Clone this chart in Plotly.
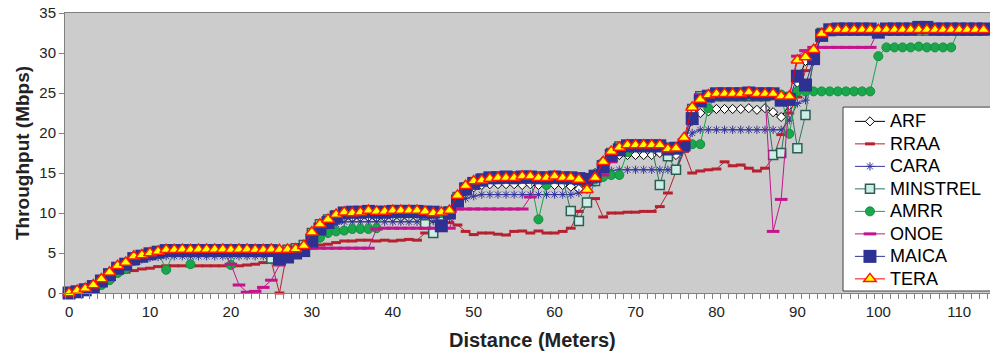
import plotly.graph_objects as go

distance = list(range(0, 114))
x_ticks = [0, 10, 20, 30, 40, 50, 60, 70, 80, 90, 100, 110]
y_ticks = [0, 5, 10, 15, 20, 25, 30, 35]

ARF = [0.0, 0.25, 0.5, 0.9, 1.6, 2.4, 3.2, 3.6, 4.3, 4.5,
       4.8, 5.0, 5.1, 5.1, 5.1, 5.1, 5.1, 5.1, 5.1, 5.1,
       5.1, 5.1, 5.1, 5.1, 5.1, 5.1, 5.1, 5.2, 5.4, 5.8,
       7.2, 8.0, 8.6, 9.0, 9.4, 9.4, 9.5, 9.5, 9.4, 9.5,
       9.5, 9.5, 9.4, 9.5, 9.5, 9.3, 9.4, 9.8, 11.3, 12.6,
       13.2, 13.5, 13.6, 13.6, 13.6, 13.6, 13.5, 13.6, 13.5, 13.6,
       13.5, 13.5, 13.3, 13.0, 13.6, 15.0, 16.5, 17.25, 17.25, 17.25,
       17.25, 17.25, 17.25, 17.5, 17.25, 17.25, 19.0, 21.5, 22.5, 22.7,
       23.0, 23.0, 23.0, 23.0, 23.1, 22.9, 23.1, 22.6, 22.0, 23.5,
       26.3, 29.0, 30.5, 32.4, 32.9, 32.9, 32.9, 32.9, 32.9, 32.9,
       32.9, 32.9, 32.9, 32.9, 32.9, 32.9, 32.9, 32.9, 32.9, 32.9,
       32.9, 32.9, 32.9, 32.9]

RRAA = [0.0, 0.15, 0.35, 0.6, 1.0, 1.6, 2.4, 2.6, 2.8, 3.0,
        3.1, 3.3, 3.4, 3.4, 3.4, 3.4, 3.4, 3.4, 3.4, 3.4,
        3.4, 3.4, 3.5, 3.6, 3.8, 3.9, 0.0, 5.5, 5.8, 5.9,
        6.0, 6.0, 6.1, 6.3, 6.5, 6.5, 6.6, 6.6, 6.5, 6.6,
        6.5, 6.6, 6.7, 6.6, 7.5, 7.7, 8.2, 8.8, 8.5, 7.7,
        7.3, 7.5, 7.5, 7.35, 7.25, 7.7, 7.75, 7.5, 7.75, 7.5,
        7.5, 7.7, 8.1, 10.2, 11.6, 11.8, 9.5, 10.0, 10.0, 10.1,
        10.1, 10.2, 10.2, 10.8, 12.5, 15.2, 17.7, 15.0, 15.25, 15.4,
        15.5, 16.4, 15.9, 16.0, 15.6, 15.25, 15.6, 16.9, 19.8, 22.5,
        24.5, 27.8, 30.5, 32.5, 32.8, 32.8, 32.8, 32.8, 32.8, 32.8,
        32.8, 32.8, 32.8, 32.8, 32.8, 32.8, 32.8, 32.8, 32.8, 32.8,
        32.8, 32.8, 32.8, 32.8]

CARA = [0.0, 0.2, 0.45, 0.85, 1.4, 2.1, 2.9, 3.4, 3.9, 4.2,
        4.4, 4.5, 4.6, 4.6, 4.6, 4.6, 4.6, 4.6, 4.6, 4.6,
        4.6, 4.6, 4.6, 4.6, 4.6, 4.6, 4.6, 4.8, 5.2, 5.6,
        7.0, 8.0, 8.4, 8.6, 8.9, 8.9, 8.9, 8.9, 8.9, 8.9,
        8.9, 8.9, 8.9, 8.9, 8.9, 9.0, 9.1, 9.3, 11.0, 11.8,
        12.1, 12.3, 12.3, 12.3, 12.3, 12.3, 12.3, 12.3, 12.3, 12.3,
        12.3, 12.3, 12.3, 12.5, 12.9, 13.8, 15.0, 15.3, 15.4, 15.4,
        15.4, 15.4, 15.4, 15.4, 15.4, 15.4, 18.0, 20.0, 20.4, 20.4,
        20.4, 20.4, 20.4, 20.4, 20.4, 20.4, 20.4, 20.4, 20.4, 21.6,
        23.7, 24.1, 28.9, 32.5, 32.8, 32.8, 32.8, 32.8, 32.8, 32.8,
        32.8, 32.8, 32.8, 32.8, 32.8, 32.8, 32.8, 32.8, 32.8, 32.8,
        32.8, 32.8, 32.8, 32.8]

MINSTREL = [0.0, 0.2, 0.5, 0.9, 1.4, 2.1, 2.9, 3.5, 4.1, 4.5,
            4.9, 5.1, 5.3, 5.3, 5.3, 5.3, 5.3, 5.3, 5.3, 5.3,
            5.3, 5.3, 5.3, 5.3, 5.3, 4.3, 5.0, 5.4, 5.6, 6.0,
            7.5, 8.6, 9.2, 9.7, 10.0, 10.0, 10.0, 10.0, 10.0, 10.0,
            10.0, 10.0, 10.0, 10.0, 8.6, 7.5, 9.0, 10.2, 12.0, 13.2,
            13.8, 14.3, 14.3, 14.3, 14.3, 14.3, 14.3, 14.3, 14.3, 14.3,
            14.3, 14.3, 10.25, 9.0, 11.3, 14.0, 16.0, 17.5, 18.3, 18.3,
            18.3, 18.3, 18.3, 13.5, 17.1, 15.4, 18.8, 23.0, 24.6, 24.6,
            24.6, 24.6, 24.6, 24.6, 24.6, 24.6, 24.6, 17.25, 17.5, 24.5,
            18.1, 22.25, 29.5, 32.5, 32.8, 32.8, 32.8, 32.8, 32.8, 32.8,
            32.8, 32.8, 32.8, 32.8, 32.8, 32.8, 32.8, 32.8, 32.8, 32.8,
            32.8, 32.8, 32.8, 32.8]

AMRR = [0.0, 0.15, 0.35, 0.6, 1.0, 1.6, 2.5, 3.0, 4.0, 4.5,
        4.9, 5.1, 2.9, 5.2, 5.3, 3.6, 5.3, 5.3, 5.3, 5.3,
        3.5, 5.3, 5.3, 5.3, 5.3, 5.3, 5.3, 5.3, 5.5, 5.8,
        6.0, 6.9, 7.5, 7.7, 7.8, 8.0, 8.0, 8.0, 8.1, 10.0,
        10.0, 10.0, 10.0, 10.0, 10.0, 10.0, 10.0, 9.8, 11.5, 13.0,
        13.8, 14.3, 14.3, 14.3, 14.3, 14.3, 14.3, 14.3, 9.2, 13.5,
        14.3, 14.3, 14.3, 14.3, 14.3, 14.2, 14.5, 14.75, 14.75, 17.6,
        18.2, 18.2, 18.2, 18.2, 18.2, 18.2, 18.2, 18.6, 18.6, 23.1,
        24.8, 24.8, 24.8, 24.8, 24.8, 24.8, 24.8, 24.8, 24.8, 19.9,
        25.2, 25.2, 25.2, 25.2, 25.2, 25.2, 25.2, 25.2, 25.2, 25.2,
        29.6, 30.7, 30.7, 30.7, 30.7, 30.8, 30.7, 30.7, 30.7, 30.7,
        33.0, 33.0, 33.0, 33.0]

ONOE = [0.0, 0.2, 0.5, 0.9, 1.5, 2.3, 3.1, 3.6, 4.2, 4.6,
        4.9, 5.1, 5.3, 5.3, 5.3, 5.3, 5.3, 5.3, 5.3, 5.3,
        3.6, 1.0, 0.1, 0.2, 0.7, 1.6, 3.5, 5.6, 5.6, 5.6,
        5.6, 5.6, 5.6, 5.6, 5.6, 5.6, 5.6, 5.6, 8.0, 8.1,
        8.1, 8.1, 8.1, 8.1, 8.1, 8.1, 8.1, 8.1, 10.5, 10.5,
        10.5, 10.5, 10.5, 10.5, 10.5, 10.5, 10.5, 12.0, 14.3, 14.4,
        14.4, 14.4, 14.4, 14.4, 14.4, 14.4, 14.75, 16.4, 18.0, 18.4,
        18.4, 18.4, 18.4, 18.4, 18.4, 18.4, 18.4, 23.0, 24.8, 24.8,
        24.8, 24.8, 24.8, 24.8, 24.8, 24.8, 24.8, 7.7, 11.7, 24.5,
        29.6, 30.3, 30.7, 30.7, 30.7, 30.7, 30.7, 30.7, 30.7, 30.7,
        32.9, 32.9, 32.9, 32.9, 32.9, 32.9, 32.9, 32.9, 32.9, 32.9,
        32.9, 32.9, 32.9, 32.9]

MAICA = [0.0, 0.15, 0.4, 0.8, 1.5, 2.3, 3.1, 3.6, 4.3, 4.6,
         4.9, 5.1, 5.3, 5.3, 5.3, 5.3, 5.3, 5.3, 5.3, 5.3,
         5.3, 5.3, 5.3, 5.3, 5.3, 5.3, 4.3, 4.5, 5.0, 5.3,
         6.5, 8.0, 8.8, 9.5, 10.0, 10.1, 10.1, 10.2, 10.1, 10.1,
         10.2, 10.2, 10.2, 10.2, 10.1, 10.1, 8.4, 10.0, 11.5, 13.0,
         13.7, 14.1, 14.4, 14.4, 14.5, 14.4, 14.5, 14.5, 14.4, 14.4,
         14.5, 14.4, 14.4, 14.3, 14.2, 14.6, 15.8, 17.2, 17.9, 18.4,
         18.4, 18.4, 18.4, 18.4, 18.0, 18.1, 18.5, 21.8, 24.0, 24.6,
         24.9, 24.9, 24.9, 24.9, 25.0, 24.9, 24.9, 24.9, 24.1, 24.2,
         27.1, 26.0, 29.3, 32.2, 32.9, 33.0, 33.0, 33.0, 33.0, 33.0,
         32.6, 33.0, 33.0, 33.0, 33.0, 33.2, 33.2, 33.0, 33.0, 33.0,
         33.0, 33.0, 33.0, 33.0]

TERA = [0.0, 0.3, 0.55, 1.0, 1.75, 2.6, 3.4, 3.8, 4.6, 4.75,
        5.0, 5.2, 5.4, 5.4, 5.45, 5.4, 5.45, 5.45, 5.45, 5.45,
        5.4, 5.45, 5.45, 5.4, 5.4, 5.45, 5.4, 5.45, 5.5, 5.9,
        7.6, 8.6, 9.2, 9.8, 10.1, 10.0, 10.1, 10.3, 10.2, 10.2,
        10.3, 10.3, 10.3, 10.3, 10.2, 10.0, 10.1, 10.3, 12.2, 13.4,
        14.0, 14.1, 14.3, 14.4, 14.4, 14.4, 14.6, 14.6, 14.4, 14.4,
        14.6, 14.4, 14.4, 14.2, 12.9, 14.4, 16.4, 17.7, 18.2, 18.5,
        18.5, 18.5, 18.5, 18.5, 18.0, 18.1, 19.4, 23.2, 24.2, 24.75,
        24.9, 24.9, 24.9, 24.9, 25.1, 24.9, 24.9, 24.9, 24.6, 24.6,
        29.1, 29.5, 30.4, 32.4, 32.9, 32.9, 32.9, 32.9, 32.9, 32.9,
        32.9, 32.9, 32.9, 32.9, 32.9, 32.9, 32.9, 32.9, 32.9, 32.9,
        32.9, 32.9, 32.9, 32.9]

FONT = "Liberation Sans, Arial, sans-serif"

styles = [
    ("ARF", ARF, "#000000", dict(symbol="diamond", size=7, color="#ffffff", line=dict(color="#000000", width=1))),
    ("RRAA", RRAA, "#b7202e", dict(symbol="line-ew", size=7, color="#b7202e", line=dict(color="#b7202e", width=3))),
    ("CARA", CARA, "#34359a", dict(symbol="asterisk", size=7, color="#34359a", line=dict(color="#34359a", width=1))),
    ("MINSTREL", MINSTREL, "#2b7560", dict(symbol="square", size=9, color="#cdeee8", line=dict(color="#2e5e50", width=1.5))),
    ("AMRR", AMRR, "#16a548", dict(symbol="circle", size=9, color="#1aa64a", line=dict(color="#12903e", width=1))),
    ("ONOE", ONOE, "#c4138c", dict(symbol="line-ew", size=9, color="#c4138c", line=dict(color="#c4138c", width=3))),
    ("MAICA", MAICA, "#2e3192", dict(symbol="square", size=13, color="#2e3192", line=dict(color="#2e3192", width=0))),
    ("TERA", TERA, "#ff0000", dict(symbol="triangle-up", size=11, color="#ffff00", line=dict(color="#ff1a00", width=1.5))),
]

fig = go.Figure()
for name, vals, col, mk in styles:
    fig.add_trace(go.Scatter(
        x=distance, y=vals, mode="lines+markers",
        name='<span style="font-size:18px">' + name + '</span>',
        line=dict(color=col, width=1), marker=mk, cliponaxis=False,
    ))

fig.update_layout(
    width=990, height=354,
    margin=dict(l=65, r=0, t=13, b=61),
    paper_bgcolor="white", plot_bgcolor="#cccccc",
    font=dict(family=FONT, size=15, color="#222222"),
    showlegend=True,
    legend=dict(x=0.8486, y=0.671, xanchor="left", yanchor="top",
                bgcolor="rgba(0,0,0,0)", borderwidth=0,
                font=dict(family=FONT, size=15, color="#000000"),
                tracegroupgap=0),
    xaxis=dict(range=[-0.5, 113.8], tickvals=x_ticks, ticks="outside", ticklen=5,
               tickcolor="rgba(0,0,0,0)", showgrid=False, zeroline=False,
               showline=True, linecolor="#808080", linewidth=1, mirror=True,
               tickfont=dict(size=15, color="#222222"),
               minor=dict(ticks="outside", dtick=1, tick0=0.5, ticklen=5,
                          tickcolor="#808080", showgrid=False)),
    yaxis=dict(range=[0, 35], tickvals=y_ticks, ticks="outside", ticklen=5,
               tickcolor="#808080", showgrid=False, zeroline=False,
               showline=True, linecolor="#808080", linewidth=1, mirror=True,
               tickfont=dict(size=15, color="#222222")),
    shapes=[dict(type="rect", xref="paper", yref="paper", x0=0.8411, x1=1.02,
                 y0=0.0071, y1=0.664, line=dict(color="#404040", width=1),
                 fillcolor="white", layer="above")],
    annotations=[
        dict(text="<b>Throughput (Mbps)</b>", xref="paper", yref="paper",
             x=-0.0465, y=0.5, textangle=-90, showarrow=False,
             font=dict(family=FONT, size=19, color="#222222"),
             xanchor="center", yanchor="middle"),
        dict(text="<b>Distance (Meters)</b>", xref="paper", yref="paper",
             x=0.505, y=-0.168, showarrow=False,
             font=dict(family=FONT, size=20, color="#222222"),
             xanchor="center", yanchor="middle"),
    ],
)

fig.write_html("out.html")
